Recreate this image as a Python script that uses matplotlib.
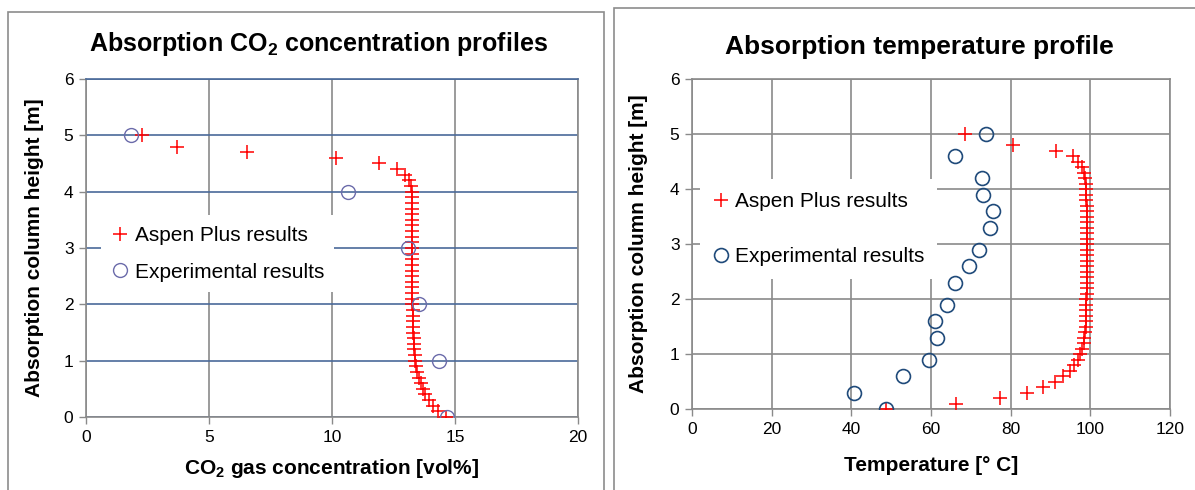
import matplotlib
matplotlib.use('Agg')
import matplotlib.pyplot as plt
import matplotlib.patches as mpatches

plt.rcParams['font.family'] = ['Liberation Sans', 'DejaVu Sans']
plt.rcParams['mathtext.fontset'] = 'custom'
plt.rcParams['mathtext.rm'] = 'Liberation Sans'
plt.rcParams['mathtext.bf'] = 'Liberation Sans:bold'

# ---- data: CO2 concentration profile ----
aspen_co2_height = [0.0, 0.1, 0.2, 0.3, 0.4, 0.5, 0.6, 0.7, 0.8, 0.9,
                    1.0, 1.1, 1.2, 1.3, 1.4, 1.5, 1.6, 1.7, 1.8, 1.9,
                    2.0, 2.1, 2.2, 2.3, 2.4, 2.5, 2.6, 2.7, 2.8, 2.9,
                    3.0, 3.1, 3.2, 3.3, 3.4, 3.5, 3.6, 3.7, 3.8, 3.9,
                    4.0, 4.1, 4.2, 4.3, 4.4, 4.5, 4.6, 4.7, 4.8, 5.0]
aspen_co2 = [14.64, 14.30, 14.10, 13.95, 13.80, 13.70, 13.60, 13.53, 13.46, 13.42,
             13.38, 13.36, 13.34, 13.33, 13.32, 13.31, 13.30, 13.29, 13.28, 13.28,
             13.27, 13.27, 13.27, 13.26, 13.26, 13.26, 13.26, 13.26, 13.25, 13.25,
             13.25, 13.25, 13.25, 13.25, 13.25, 13.25, 13.25, 13.25, 13.25, 13.24,
             13.24, 13.21, 13.14, 12.98, 12.66, 11.92, 10.17, 6.54, 3.69, 2.28]
exp_co2_height = [0.0, 1.0, 2.0, 3.0, 4.0, 5.0]
exp_co2 = [14.66, 14.33, 13.52, 13.07, 10.65, 1.83]

# ---- data: temperature profile ----
aspen_temp_height = aspen_co2_height
aspen_temp = [48.8, 66.4, 77.2, 84.0, 88.2, 91.2, 93.2, 94.9, 95.9, 96.9,
              97.5, 97.9, 98.3, 98.5, 98.7, 98.8, 98.9, 98.9, 99.0, 99.0,
              99.0, 99.1, 99.1, 99.1, 99.1, 99.1, 99.1, 99.1, 99.1, 99.1,
              99.1, 99.1, 99.1, 99.1, 99.1, 99.1, 99.1, 99.1, 99.0, 99.0,
              99.0, 98.9, 98.7, 98.3, 97.8, 97.0, 95.7, 91.3, 80.7, 68.5]
exp_temp_height = [0.0, 0.3, 0.6, 0.9, 1.3, 1.6, 1.9, 2.3, 2.6, 2.9,
                   3.3, 3.6, 3.9, 4.2, 4.6, 5.0]
exp_temp = [48.8, 40.6, 53.0, 59.4, 61.6, 61.1, 63.9, 66.1, 69.6, 72.1,
            74.8, 75.5, 73.1, 72.9, 65.9, 73.7]

W, H = 1195, 490
fig = plt.figure(figsize=(W / 100, H / 100), dpi=100)

# chart frames
fig.patches.append(mpatches.Rectangle((8 / W, -0.1), 596 / W, 1.1 - 12 / H,
                                      transform=fig.transFigure, fill=False,
                                      edgecolor='#8c8c8c', lw=1.2))
fig.patches.append(mpatches.Rectangle((614 / W, -0.1), 0.6, 1.1 - 8 / H,
                                      transform=fig.transFigure, fill=False,
                                      edgecolor='#8c8c8c', lw=1.2))

gray = '#8a8a8a'

def style_axes(ax):
    for s in ax.spines.values():
        s.set_color(gray)
        s.set_linewidth(1.2)
    ax.tick_params(direction='out', length=5, width=1, color=gray,
                   labelsize=12.5, pad=4)
    ax.set_axisbelow(True)

# ---- left chart ----
ax1 = fig.add_axes([86 / W, (H - 417) / H, 492 / W, 338 / H])
ax1.set_xlim(0, 20)
ax1.set_ylim(0, 6)
ax1.set_xticks([0, 5, 10, 15, 20])
ax1.set_yticks([0, 1, 2, 3, 4, 5, 6])
style_axes(ax1)
ax1.spines['top'].set_color('#4a6a9a')
ax1.xaxis.grid(True, color=gray, lw=1.2)
ax1.yaxis.grid(True, color='#4a6a9a', lw=1.2)
ax1.plot(aspen_co2, aspen_co2_height, ls='none', marker='+', ms=10, mew=1.1,
         color='#ff0000', label='Aspen Plus results', zorder=3)
ax1.plot(exp_co2, exp_co2_height, ls='none', marker='o', ms=10, mew=1.0,
         mfc='none', mec='#6b6baa', label='Experimental results', zorder=4)
ax1.set_title(r'Absorption CO$_\mathbf{2}$ concentration profiles',
              fontsize=18, fontweight='bold', pad=20, x=0.472)
ax1.set_xlabel(r'CO$_\mathbf{2}$ gas concentration [vol%]', fontsize=15,
               fontweight='bold', labelpad=9)
ax1.set_ylabel('Absorption column height [m]', fontsize=15,
               fontweight='bold', labelpad=14)
leg1 = ax1.legend(loc='center left', bbox_to_anchor=(0.01, 0.483),
                  fontsize=15, frameon=True, fancybox=False, framealpha=1,
                  edgecolor='none', facecolor='white', handlelength=0.8,
                  handletextpad=0.3, labelspacing=0.85, borderpad=0.5)

# ---- right chart ----
ax2 = fig.add_axes([692 / W, (H - 409) / H, 478 / W, 330 / H])
ax2.set_xlim(0, 120)
ax2.set_ylim(0, 6)
ax2.set_xticks([0, 20, 40, 60, 80, 100, 120])
ax2.set_yticks([0, 1, 2, 3, 4, 5, 6])
style_axes(ax2)
ax2.grid(True, color=gray, lw=1.2)
ax2.plot(aspen_temp, aspen_temp_height, ls='none', marker='+', ms=10, mew=1.1,
         color='#ff0000', label='Aspen Plus results', zorder=3)
ax2.plot(exp_temp, exp_temp_height, ls='none', marker='o', ms=10, mew=1.2,
         mfc='none', mec='#1f4a7a', label='Experimental results', zorder=4)
ax2.set_title('Absorption temperature profile', fontsize=19,
              fontweight='bold', pad=18, x=0.475)
ax2.set_xlabel('Temperature [° C]', fontsize=15, fontweight='bold',
               labelpad=14)
ax2.set_ylabel('Absorption column height [m]', fontsize=15,
               fontweight='bold', labelpad=16)
leg2 = ax2.legend(loc='center left', bbox_to_anchor=(-0.005, 0.545),
                  fontsize=15, frameon=True, fancybox=False, framealpha=1,
                  edgecolor='none', facecolor='white', handlelength=0.8,
                  handletextpad=0.3, labelspacing=1.75, borderpad=0.6)

plt.savefig('out.png', dpi=100)
